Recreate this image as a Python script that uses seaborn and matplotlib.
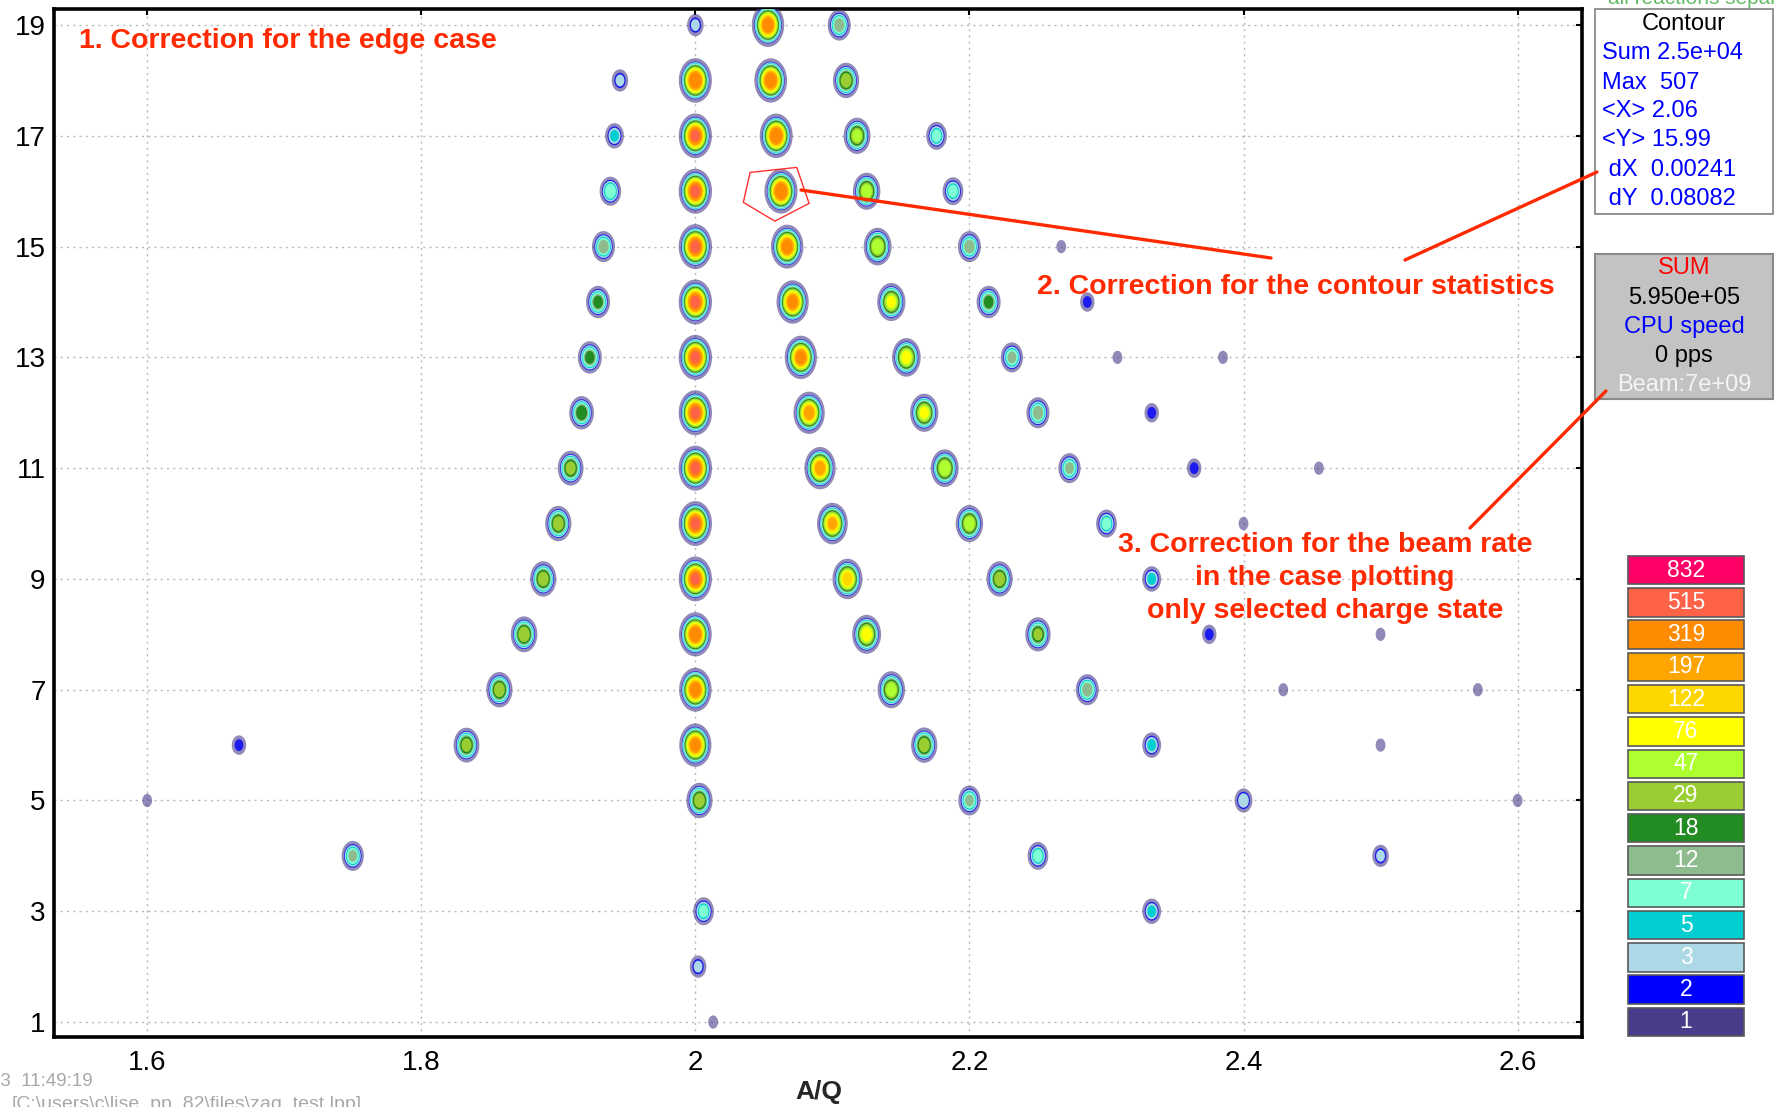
import numpy as np
import pandas as pd
import matplotlib
matplotlib.use("Agg")
import matplotlib.pyplot as plt
from matplotlib.path import Path
from matplotlib.markers import MarkerStyle
from matplotlib.patches import Rectangle, Polygon
from matplotlib.lines import Line2D
import seaborn as sns

# Colour scale of the identification plot (counts per cell)
level_values = [1, 2, 3, 5, 7, 12, 18, 29, 47, 76, 122, 197, 319, 515, 832]
level_colors = ["#483D8B", "#0000FF", "#ADD8E6", "#00CED1", "#7FFFD4",
                "#8FBC8F", "#228B22", "#9ACD32", "#ADFF2F", "#FFFF00",
                "#FFD700", "#FFA500", "#FF8C00", "#FF6347", "#FF0066"]

# Isotope spots: charge Z, A/Q position and peak counts (row by row)
spot_z = (
    [19] * 3 + [18] * 4 + [17] * 5 + [16] * 5 + [15] * 6 + [14] * 6 +
    [13] * 7 + [12] * 6 + [11] * 7 + [10] * 6 + [9] * 5 + [8] * 6 +
    [7] * 6 + [6] * 6 + [5] * 5 + [4] * 3 + [3] * 2 + [2] + [1]
)
spot_aq = [
    2.000, 2.053, 2.105,
    1.945, 2.000, 2.055, 2.110,
    1.941, 2.000, 2.059, 2.118, 2.176,
    1.938, 2.000, 2.0625, 2.125, 2.188,
    1.933, 2.000, 2.067, 2.133, 2.200, 2.267,
    1.929, 2.000, 2.071, 2.143, 2.214, 2.286,
    1.923, 2.000, 2.077, 2.154, 2.231, 2.308, 2.385,
    1.917, 2.000, 2.083, 2.167, 2.250, 2.333,
    1.909, 2.000, 2.091, 2.182, 2.273, 2.364, 2.455,
    1.900, 2.000, 2.100, 2.200, 2.300, 2.400,
    1.889, 2.000, 2.111, 2.222, 2.333,
    1.875, 2.000, 2.125, 2.250, 2.375, 2.500,
    1.857, 2.000, 2.143, 2.286, 2.429, 2.571,
    1.667, 1.833, 2.000, 2.167, 2.333, 2.500,
    1.600, 2.003, 2.200, 2.400, 2.600,
    1.750, 2.250, 2.500,
    2.006, 2.333,
    2.002,
    2.013,
]
spot_counts = [
    3, 400, 15,
    3, 500, 450, 40,
    5, 520, 480, 50, 8,
    10, 560, 507, 60, 8,
    15, 560, 400, 70, 15, 1,
    20, 560, 350, 80, 20, 2,
    20, 560, 350, 90, 12, 1, 1,
    25, 560, 250, 80, 15, 2,
    35, 560, 250, 70, 12, 2, 1,
    40, 560, 200, 60, 8, 1,
    40, 520, 150, 40, 5,
    45, 450, 100, 30, 2, 1,
    40, 400, 60, 15, 1, 1,
    2, 35, 350, 40, 5, 1,
    1, 40, 12, 4, 1,
    12, 8, 3,
    8, 5,
    3,
    1,
]

x_ticks = [1.6, 1.8, 2.0, 2.2, 2.4, 2.6]
x_tick_labels = ["1.6", "1.8", "2", "2.2", "2.4", "2.6"]
y_ticks = [1, 3, 5, 7, 9, 11, 13, 15, 17, 19]

W, H = 1776, 1107


def fx(px):
    return px / W


def fy(py):
    return 1 - py / H


sns.set_theme(style="white")
plt.rcParams["font.family"] = ["Liberation Sans", "DejaVu Sans"]

fig = plt.figure(figsize=(W / 100, H / 100), dpi=100)
ax = fig.add_axes([fx(54), fy(1037), fx(1582) - fx(54), fy(9) - fy(1037)])

# Nested contour layers of every spot (outer, low levels first)
rows = []
sigma_pt = 5.4 * 0.72
for z, aq, cnt in zip(spot_z, spot_aq, spot_counts):
    for lv in level_values:
        if lv <= cnt:
            diam = 2 * sigma_pt * np.sqrt(2 * np.log(cnt / lv) + 1.2)
            if lv == 1:
                diam *= 1.12
            rows.append({"aq": aq, "z": z, "level": str(lv), "lv": lv,
                         "size": diam ** 2})
layers = pd.DataFrame(rows).sort_values("lv", kind="stable").reset_index(drop=True)

theta = np.linspace(0, 2 * np.pi, 60)
ellipse = MarkerStyle(Path(np.column_stack([np.cos(theta) / 1.35, np.sin(theta)]),
                           closed=True))
palette = {str(v): c for v, c in zip(level_values, level_colors)}
hue_order = [str(v) for v in level_values]

halo = layers[layers["lv"] == 1]
rim = layers[layers["lv"] == 2]
inner = layers[layers["lv"] > 2]
sns.scatterplot(data=halo, x="aq", y="z", hue="level", palette=palette,
                hue_order=hue_order, s=halo["size"].values, marker=ellipse,
                linewidth=0, alpha=0.6, legend=False, ax=ax, zorder=3)
sns.scatterplot(data=rim, x="aq", y="z", hue="level", palette=palette,
                hue_order=hue_order, s=rim["size"].values, marker=ellipse,
                linewidth=0, alpha=0.8, legend=False, ax=ax, zorder=3)
sns.scatterplot(data=inner, x="aq", y="z", hue="level", palette=palette,
                hue_order=hue_order, s=inner["size"].values, marker=ellipse,
                linewidth=0, legend=False, ax=ax, zorder=4)

ax.set_xlim(1.532, 2.647)
ax.set_ylim(0.73, 19.29)
ax.set_xticks(x_ticks)
ax.set_xticklabels(x_tick_labels)
ax.set_yticks(y_ticks)
ax.set_xlabel("")
ax.set_ylabel("")
ax.grid(True, linestyle=(0, (1.5, 3)), color="#b8b8b8", linewidth=1.0)
ax.set_axisbelow(True)
for sp in ax.spines.values():
    sp.set_color("black")
    sp.set_linewidth(2.6)
ax.tick_params(direction="in", length=4, width=1.5, top=True, right=True,
               labelsize=20, pad=6, colors="black")
ax.tick_params(axis="x", labelsize=20, pad=9)

# Contour around the selected spot
poly = Polygon([(2.040, 16.34), (2.074, 16.43), (2.083, 15.78),
                (2.058, 15.46), (2.035, 15.80)], closed=True, fill=False,
               edgecolor="#ff3030", linewidth=1.0, zorder=6)
ax.add_patch(poly)

fig.text(fx(819), fy(1092), "A/Q", fontsize=19, fontweight="bold",
         ha="center", va="center")

# Annotations
red = "#ff2a00"
ann_size = 20.5
fig.text(fx(79), fy(41), "1. Correction for the edge case", color=red,
         fontsize=ann_size, fontweight="bold", ha="left", va="center")
fig.text(fx(1296), fy(287), "2. Correction for the contour statistics",
         color=red, fontsize=ann_size, fontweight="bold", ha="center",
         va="center")
for txt, py in zip(["3. Correction for the beam rate", "in the case plotting",
                    "only selected charge state"], [545, 578, 611]):
    fig.text(fx(1325), fy(py), txt, color=red, fontsize=ann_size,
             fontweight="bold", ha="center", va="center")

for (x0, y0), (x1, y1) in [((801, 190), (1271, 258)),
                           ((1405, 260), (1597, 172)),
                           ((1470, 528), (1606, 391))]:
    fig.add_artist(Line2D([fx(x0), fx(x1)], [fy(y0), fy(y1)], color=red,
                          linewidth=2.4, transform=fig.transFigure, zorder=10))

# Contour statistics box
fig.add_artist(Rectangle((fx(1595), fy(214)), fx(1773) - fx(1595),
                         fy(9) - fy(214), transform=fig.transFigure,
                         facecolor="white", edgecolor="#808080", linewidth=1.2))
box_size = 17
fig.text(fx(1684), fy(24), "Contour", fontsize=box_size, ha="center",
         va="center", color="black")
stat_lines = ["Sum 2.5e+04", "Max  507", "<X> 2.06", "<Y> 15.99",
              " dX  0.00241", " dY  0.08082"]
for txt, py in zip(stat_lines, [53, 83, 111, 140, 170, 199]):
    fig.text(fx(1602), fy(py), txt, fontsize=box_size, ha="left", va="center",
             color="#0000ff")

# Summary box
fig.add_artist(Rectangle((fx(1595), fy(399)), fx(1773) - fx(1595),
                         fy(254) - fy(399), transform=fig.transFigure,
                         facecolor="#c3c3c3", edgecolor="#8a8a8a", linewidth=1.5))
for txt, py, col in [("SUM", 268, "#ff0000"), ("5.950e+05", 298, "black"),
                     ("CPU speed", 327, "#0000ff"), ("0 pps", 356, "black"),
                     ("Beam:7e+09", 385, "#f4f4f4")]:
    fig.text(fx(1684), fy(py), txt, fontsize=box_size, ha="center",
             va="center", color=col)

fig.text(fx(1608), fy(-1), "all reactions separated", fontsize=15,
         color="#66bb66", ha="left", va="center")

# Colour scale
cax = fig.add_axes([fx(1627), fy(1038), fx(1745) - fx(1627), fy(554) - fy(1038)])
pos = np.arange(len(level_values))
cax.barh(pos, 1, height=0.88, color=level_colors, edgecolor="#5a5a5a",
         linewidth=1.2)
for p, v in zip(pos, level_values):
    cax.text(0.5, p, str(v), color="white", fontsize=16.5, ha="center",
             va="center")
cax.set_xlim(-0.01, 1.01)
cax.set_ylim(-0.5, len(level_values) - 0.5)
cax.axis("off")

# Footer
fig.text(fx(-10), fy(1082), "13  11:49:19", fontsize=13.5, color="#a8a8a8",
         ha="left", va="center")
fig.text(fx(12), fy(1104), "[C:\\users\\c\\lise_pp_82\\files\\zag_test.lpp]",
         fontsize=14, color="#a8a8a8", ha="left", va="center")

fig.savefig("out.png", dpi=100)
